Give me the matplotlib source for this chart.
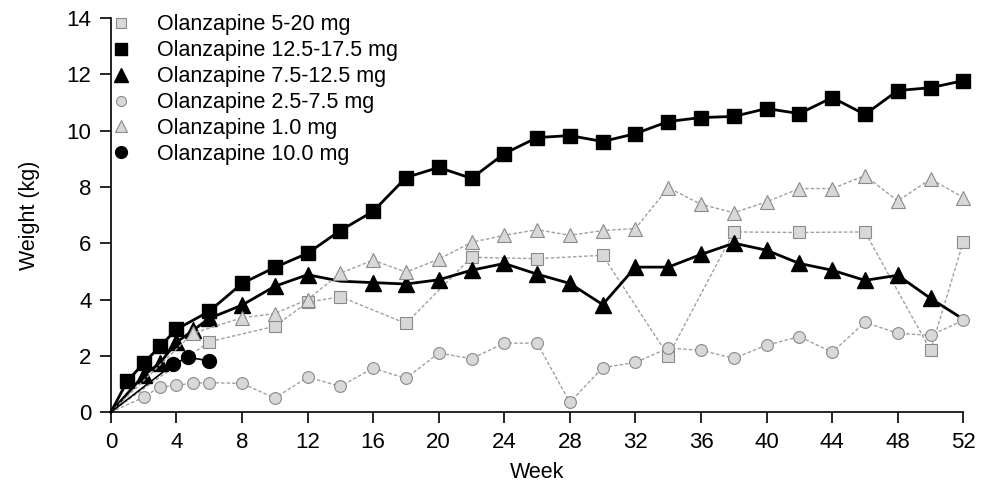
import numpy as np
import matplotlib
matplotlib.use("Agg")
import matplotlib.pyplot as plt

plt.rcParams['font.family'] = ['Liberation Sans', 'DejaVu Sans']

# Olanzapine 5-20 mg (grey squares)
wk_5_20 = [0, 6, 10, 12, 14, 18, 22, 26, 30, 34, 38, 42, 46, 50, 52]
kg_5_20 = [0, 2.5, 3.05, 3.9, 4.1, 3.15, 5.5, 5.45, 5.57, 2.0, 6.4, 6.38, 6.4, 2.2, 6.05]

# Olanzapine 12.5-17.5 mg (black squares)
wk_12_17 = [0, 1, 2, 3, 4, 6, 8, 10, 12, 14, 16, 18, 20, 22, 24, 26, 28, 30,
            32, 34, 36, 38, 40, 42, 44, 46, 48, 50, 52]
kg_12_17 = [0, 1.1, 1.74, 2.34, 2.94, 3.58, 4.57, 5.14, 5.64, 6.45, 7.13, 8.33,
            8.69, 8.3, 9.18, 9.75, 9.82, 9.61, 9.89, 10.32, 10.46, 10.5, 10.78,
            10.6, 11.17, 10.57, 11.42, 11.52, 11.77]

# Olanzapine 7.5-12.5 mg (black triangles)
wk_7_12 = [0, 2, 3, 4, 5, 6, 8, 10, 12, 14, 16, 18, 20, 22, 24, 26, 28, 30,
           32, 34, 36, 38, 40, 42, 44, 46, 48, 50, 52]
kg_7_12 = [0, 1.31, 1.75, 2.48, 2.9, 3.33, 3.8, 4.47, 4.88, 4.65, 4.6, 4.55,
           4.7, 5.04, 5.28, 4.9, 4.57, 3.82, 5.15, 5.15, 5.6, 6.0, 5.75, 5.28,
           5.04, 4.68, 4.86, 4.04, 3.3]

# Olanzapine 2.5-7.5 mg (grey circles)
wk_2_7 = [0, 2, 3, 4, 5, 6, 8, 10, 12, 14, 16, 18, 20, 22, 24, 26, 28, 30,
          32, 34, 36, 38, 40, 42, 44, 46, 48, 50, 52]
kg_2_7 = [0, 0.53, 0.9, 0.95, 1.03, 1.05, 1.02, 0.5, 1.24, 0.92, 1.56, 1.2,
          2.1, 1.9, 2.45, 2.45, 0.35, 1.58, 1.77, 2.27, 2.2, 1.91, 2.38, 2.68,
          2.13, 3.19, 2.8, 2.73, 3.26]

# Olanzapine 1.0 mg (grey triangles)
wk_1 = [0, 5, 8, 10, 12, 14, 16, 18, 20, 22, 24, 26, 28, 30, 32, 34, 36, 38,
        40, 42, 44, 46, 48, 50, 52]
kg_1 = [0, 2.8, 3.35, 3.5, 4.0, 4.93, 5.4, 4.97, 5.43, 6.03, 6.28, 6.48, 6.28,
        6.45, 6.52, 7.97, 7.38, 7.08, 7.47, 7.94, 7.94, 8.4, 7.5, 8.28, 7.62]

# Olanzapine 10.0 mg (black circles)
wk_10 = [0, 3.8, 4.7, 6.0]
kg_10 = [0, 1.7, 1.95, 1.82]

fig = plt.figure(figsize=(9.81, 4.96), dpi=100)
ax = fig.add_axes([0.113, 0.169, 0.869, 0.795])

grey_line = dict(color='#a0a0a0', lw=1.0, ls=(0, (2.5, 1.5)), mfc='#d8d8d8',
                 mec='#8a8a8a', mew=0.8, clip_on=False)

ax.plot(wk_5_20, kg_5_20, marker='s', ms=8.5, markevery=list(range(1, len(wk_5_20))),
        label='Olanzapine 5-20 mg', **grey_line)
ax.plot(wk_12_17, kg_12_17, color='black', lw=2, marker='s', ms=9.5,
        markevery=list(range(1, len(wk_12_17))), clip_on=False,
        label='Olanzapine 12.5-17.5 mg')
tri_marks = [i for i in range(1, len(wk_7_12) - 1) if wk_7_12[i] != 14]
ax.plot(wk_7_12, kg_7_12, color='black', lw=2, marker='^', ms=12,
        markevery=tri_marks, clip_on=False, label='Olanzapine 7.5-12.5 mg')
ax.plot(wk_2_7, kg_2_7, marker='o', ms=8.5, markevery=list(range(1, len(wk_2_7))),
        label='Olanzapine 2.5-7.5 mg', **grey_line)
ax.plot(wk_1, kg_1, marker='^', ms=10.5, markevery=list(range(1, len(wk_1))),
        label='Olanzapine 1.0 mg', **grey_line)
ax.plot(wk_10, kg_10, color='black', lw=1.2, marker='o', ms=10,
        markevery=[1, 2, 3], clip_on=False, label='Olanzapine 10.0 mg')

ax.set_xlim(0, 52)
ax.set_ylim(0, 14)
ax.set_xticks(np.arange(0, 53, 4))
ax.set_yticks(np.arange(0, 15, 2))
ax.tick_params(direction='out', length=8, width=1.2, labelsize=16, pad=6)
ax.spines['top'].set_visible(False)
ax.spines['right'].set_visible(False)
for s in ['left', 'bottom']:
    ax.spines[s].set_linewidth(1.2)

ax.set_xlabel('Week', fontsize=15.5, labelpad=7)
ax.set_ylabel('Weight (kg)', fontsize=15.5, labelpad=19)

ax.legend(loc='upper left', bbox_to_anchor=(-0.016, 1.042), frameon=False,
          fontsize=15.5, handlelength=1.0, handletextpad=1.2, labelspacing=0.23,
          borderaxespad=0.2, markerscale=0.85)
leg = ax.get_legend()
for h in leg.legend_handles:
    h.set_linestyle('None')

fig.savefig('out.png', dpi=100)
